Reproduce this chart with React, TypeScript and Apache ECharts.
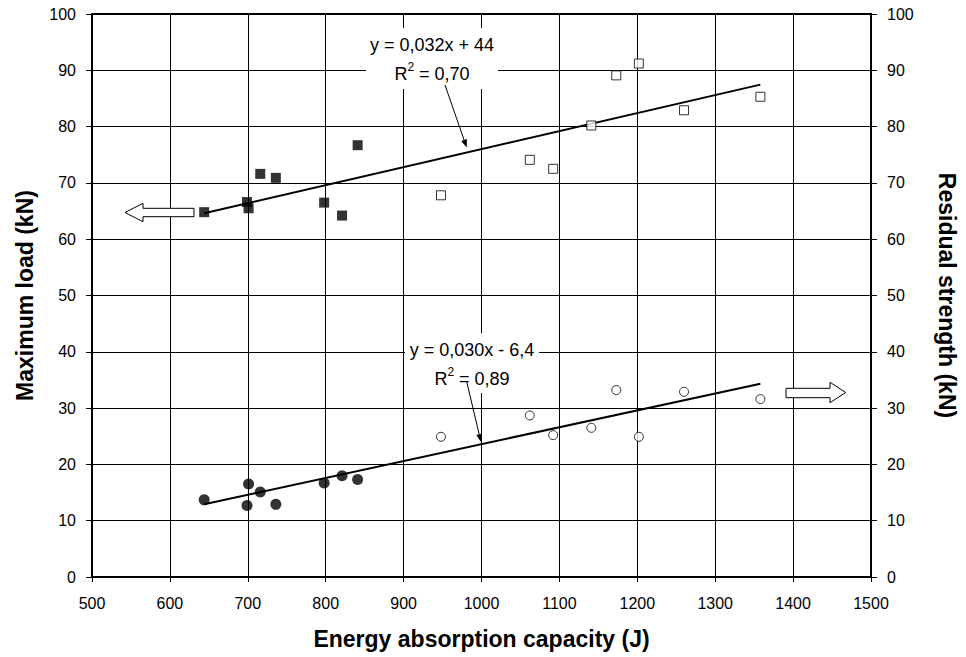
import React, { useEffect, useRef } from "react";
import * as echarts from "echarts";

// Energy absorption capacity (J) of each specimen
const energyFilled = [644, 699, 701, 716, 736, 798, 821, 841];
const energyHollow = [948, 1062, 1092, 1141, 1173, 1202, 1260, 1358];

// Maximum load (kN), left axis
const maxLoadFilled = [64.8, 66.6, 65.5, 71.6, 70.9, 66.5, 64.2, 76.7];
const maxLoadHollow = [67.8, 74.1, 72.5, 80.2, 89.1, 91.2, 82.9, 85.3];

// Residual strength (kN), right axis
const residualFilled = [13.7, 12.7, 16.5, 15.1, 12.9, 16.7, 18.0, 17.3];
const residualHollow = [24.9, 28.7, 25.2, 26.5, 33.2, 24.9, 32.9, 31.6];

// Linear fits as stated on the chart
const loadFit = { slope: 0.032, intercept: 44, label: "y = 0,032x + 44", r2: "0,70" };
const residualFit = { slope: 0.03, intercept: -6.4, label: "y = 0,030x - 6,4", r2: "0,89" };
const fitRange = [644, 1358];

const FONT = "'Liberation Sans', Arial, sans-serif";

const pairs = (xs: number[], ys: number[]) => xs.map((x, i) => [x, ys[i]]);
const fitLine = (f: { slope: number; intercept: number }) =>
  fitRange.map((x) => [x, +(f.slope * x + f.intercept).toFixed(3)]);

// Thin pointer arrow with a small filled head
function pointer(x1: number, y1: number, x2: number, y2: number) {
  const dx = x2 - x1;
  const dy = y2 - y1;
  const len = Math.hypot(dx, dy);
  const ux = dx / len;
  const uy = dy / len;
  const hl = 8;
  const hw = 3;
  const bx = x2 - ux * hl;
  const by = y2 - uy * hl;
  return [
    {
      type: "line",
      shape: { x1, y1, x2: bx, y2: by },
      style: { stroke: "#000", lineWidth: 1 },
      z: 110,
    },
    {
      type: "polygon",
      shape: {
        points: [
          [x2, y2],
          [bx - uy * hw, by + ux * hw],
          [bx + uy * hw, by - ux * hw],
        ],
      },
      style: { fill: "#000" },
      z: 110,
    },
  ];
}

function fitBox(cx: number, top: number, w: number, h: number, f: { label: string; r2: string }) {
  return [
    {
      type: "rect",
      shape: { x: cx - w / 2, y: top, width: w, height: h },
      style: { fill: "#fff" },
      z: 100,
    },
    {
      type: "text",
      x: cx,
      y: top + 17,
      style: {
        text: f.label,
        fontFamily: FONT,
        fontSize: 18,
        fill: "#000",
        align: "center",
        verticalAlign: "middle",
      },
      z: 105,
    },
    {
      type: "text",
      x: cx,
      y: top + 44,
      style: {
        text: "{a|R}{s|2}{a| = " + f.r2 + "}",
        align: "center",
        verticalAlign: "middle",
        rich: {
          a: { fontFamily: FONT, fontSize: 18, fill: "#000", lineHeight: 22, verticalAlign: "bottom" },
          s: { fontFamily: FONT, fontSize: 12, fill: "#000", lineHeight: 22, verticalAlign: "top" },
        },
      },
      z: 105,
    },
  ];
}

export default function App() {
  const ref = useRef<HTMLDivElement>(null);

  useEffect(() => {
    if (!ref.current) return;
    const chart = echarts.init(ref.current, null, { renderer: "svg" });

    const titleStyle = { color: "#000", fontSize: 23, fontWeight: "bold" as const, fontFamily: FONT };
    const axisCommon = {
      type: "value" as const,
      min: 0,
      max: 100,
      interval: 10,
      axisLine: { show: true, lineStyle: { color: "#000", width: 2 } },
      axisTick: { show: true, length: 6, lineStyle: { color: "#000", width: 1 } },
      axisLabel: { color: "#000", fontSize: 16, fontFamily: FONT, margin: 16 },
      nameLocation: "middle" as const,
      nameTextStyle: titleStyle,
    };

    chart.setOption({
      animation: false,
      backgroundColor: "#fff",
      grid: {
        left: 92,
        right: 94,
        top: 14,
        bottom: 80,
        show: true,
        borderColor: "#000",
        borderWidth: 2,
      },
      xAxis: {
        type: "value",
        min: 500,
        max: 1500,
        interval: 100,
        axisLine: { show: true, lineStyle: { color: "#000", width: 2 } },
        axisTick: { show: true, length: 5, lineStyle: { color: "#000", width: 1 } },
        axisLabel: {
          color: "#000",
          fontSize: 16,
          fontFamily: FONT,
          margin: 18,
          formatter: (v: number) => String(v),
        },
        splitLine: { show: true, lineStyle: { color: "#000", width: 1 } },
        name: "Energy absorption capacity (J)",
        nameLocation: "middle",
        nameGap: 50,
        nameTextStyle: titleStyle,
      },
      yAxis: [
        {
          ...axisCommon,
          position: "left",
          splitLine: { show: true, lineStyle: { color: "#000", width: 1 } },
          name: "Maximum load (kN)",
          nameRotate: 90,
          nameGap: 56,
        },
        {
          ...axisCommon,
          position: "right",
          splitLine: { show: false },
          name: "Residual strength (kN)",
          nameRotate: -90,
          nameGap: 64,
        },
      ],
      series: [
        {
          type: "line",
          yAxisIndex: 0,
          data: fitLine(loadFit),
          symbol: "none",
          lineStyle: { color: "#000", width: 2 },
          z: 3,
        },
        {
          type: "line",
          yAxisIndex: 1,
          data: fitLine(residualFit),
          symbol: "none",
          lineStyle: { color: "#000", width: 2 },
          z: 3,
        },
        {
          type: "scatter",
          yAxisIndex: 0,
          data: pairs(energyFilled, maxLoadFilled),
          symbol: "rect",
          symbolSize: 10,
          itemStyle: { color: "#000" },
          z: 4,
        },
        {
          type: "scatter",
          yAxisIndex: 0,
          data: pairs(energyHollow, maxLoadHollow),
          symbol: "rect",
          symbolSize: 9,
          itemStyle: { color: "#fff", borderColor: "#000", borderWidth: 1 },
          z: 4,
        },
        {
          type: "scatter",
          yAxisIndex: 1,
          data: pairs(energyFilled, residualFilled),
          symbol: "circle",
          symbolSize: 11,
          itemStyle: { color: "#000" },
          z: 4,
        },
        {
          type: "scatter",
          yAxisIndex: 1,
          data: pairs(energyHollow, residualHollow),
          symbol: "circle",
          symbolSize: 9,
          itemStyle: { color: "#fff", borderColor: "#000", borderWidth: 1 },
          z: 4,
        },
      ],
      graphic: [
        ...fitBox(432, 28, 132, 61, loadFit),
        ...pointer(445, 85, 466.7, 147.5),
        ...fitBox(472, 333, 134, 60, residualFit),
        ...pointer(466.7, 381.7, 481, 442),
        // hollow arrow: filled squares read on the left axis
        {
          type: "polygon",
          shape: {
            points: [
              [125, 212.5],
              [143, 203.3],
              [143, 208.3],
              [194, 208.3],
              [194, 216.7],
              [143, 216.7],
              [143, 221.7],
            ],
          },
          style: { fill: "#fff", stroke: "#000", lineWidth: 1 },
          z: 100,
        },
        // hollow arrow: circles read on the right axis
        {
          type: "polygon",
          shape: {
            points: [
              [786, 388.3],
              [830, 388.3],
              [830, 382.3],
              [845.7, 392.5],
              [830, 402.7],
              [830, 397.7],
              [786, 397.7],
            ],
          },
          style: { fill: "#fff", stroke: "#000", lineWidth: 1 },
          z: 100,
        },
      ],
    });

    return () => chart.dispose();
  }, []);

  return (
    <div
      ref={ref}
      style={{ position: "absolute", left: 0, top: 0, width: 966, height: 657, background: "#fff" }}
    />
  );
}
